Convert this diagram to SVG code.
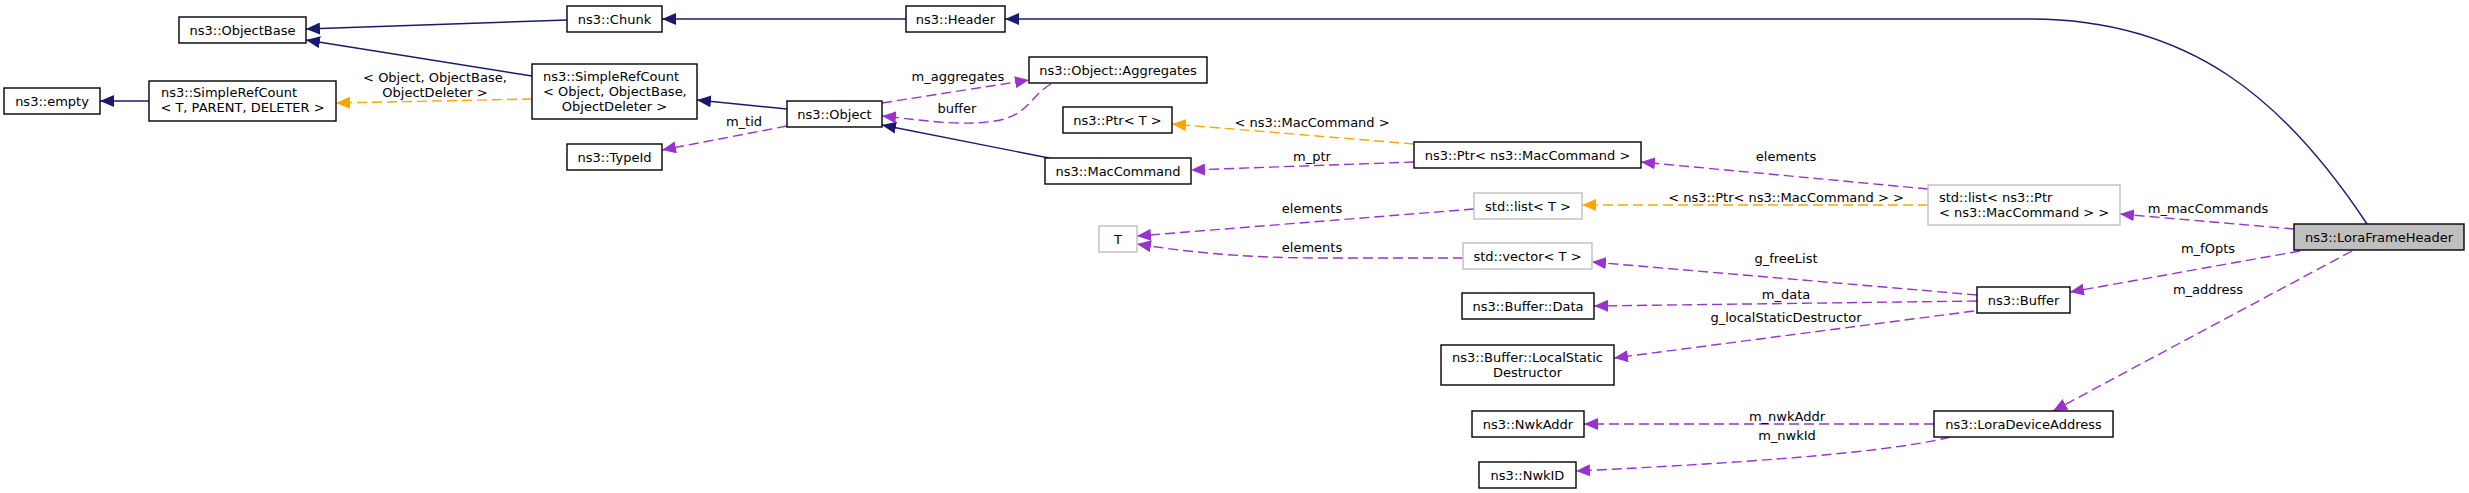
<svg xmlns="http://www.w3.org/2000/svg" width="2469" height="493" viewBox="0 0 2469 493">
<style>
text{font-family:"DejaVu Sans","Liberation Sans",sans-serif;font-size:13px;fill:#000}
.n rect{fill:#fff;stroke:#000;stroke-width:1.4}
.g rect{fill:#fff;stroke:#bfbfbf;stroke-width:1.4}
.c{text-anchor:middle}
.e path{fill:none;stroke-width:1.4}
.inh{stroke:#191970}
.use{stroke:#9a32cd;stroke-dasharray:10,5}
.tpl{stroke:#ffa500;stroke-dasharray:10,5}
</style>
<defs>
<marker id="ab" viewBox="0 0 14 12" refX="14" refY="6" markerWidth="14" markerHeight="12" markerUnits="userSpaceOnUse" orient="auto"><path d="M0,0 L14,6 L0,12 z" fill="#191970"/></marker>
<marker id="ap" viewBox="0 0 14 12" refX="14" refY="6" markerWidth="14" markerHeight="12" markerUnits="userSpaceOnUse" orient="auto"><path d="M0,0 L14,6 L0,12 z" fill="#9a32cd"/></marker>
<marker id="ao" viewBox="0 0 14 12" refX="14" refY="6" markerWidth="14" markerHeight="12" markerUnits="userSpaceOnUse" orient="auto"><path d="M0,0 L14,6 L0,12 z" fill="#ffa500"/></marker>
</defs>
<rect width="2469" height="493" fill="#fff"/>
<g id="edges" class="e">
<path class="inh" d="M567,20 L306,29" marker-end="url(#ab)"/>
<path class="inh" d="M532,76 L306,40" marker-end="url(#ab)"/>
<path class="inh" d="M149,101 L100,101" marker-end="url(#ab)"/>
<path class="tpl" d="M532,99 L336,103" marker-end="url(#ao)"/>
<path class="inh" d="M906,19 L662,19" marker-end="url(#ab)"/>
<path class="inh" d="M2367,224 C2285,100 2190,19 2030,19 L1005,19" marker-end="url(#ab)"/>
<path class="inh" d="M787,109 L697,100" marker-end="url(#ab)"/>
<path class="inh" d="M1049,158 L882,125" marker-end="url(#ab)"/>
<path class="use" d="M787,126 L662,150" marker-end="url(#ap)"/>
<path class="use" d="M882,103 L1029,80" marker-end="url(#ap)"/>
<path class="use" d="M1051,84 C1030,96 1028,116 995,121 C960,127 915,119 882,116" marker-end="url(#ap)"/>
<path class="tpl" d="M1414,144 L1172,124" marker-end="url(#ao)"/>
<path class="use" d="M1414,162 L1191,170" marker-end="url(#ap)"/>
<path class="use" d="M1928,189 L1641,162" marker-end="url(#ap)"/>
<path class="tpl" d="M1928,205 L1582,205" marker-end="url(#ao)"/>
<path class="use" d="M2294,229 L2120,214" marker-end="url(#ap)"/>
<path class="use" d="M2300,251 L2070,292" marker-end="url(#ap)"/>
<path class="use" d="M2352,251 L2053,411" marker-end="url(#ap)"/>
<path class="use" d="M1474,209 L1137,236" marker-end="url(#ap)"/>
<path class="use" d="M1463,258 L1320,258 C1240,258 1180,251 1137,244" marker-end="url(#ap)"/>
<path class="use" d="M1977,295 L1592,262" marker-end="url(#ap)"/>
<path class="use" d="M1977,301 L1594,306" marker-end="url(#ap)"/>
<path class="use" d="M1974,311 L1614,358" marker-end="url(#ap)"/>
<path class="use" d="M1934,424 L1584,424" marker-end="url(#ap)"/>
<path class="use" d="M1950,437 C1880,455 1700,465 1576,471" marker-end="url(#ap)"/>
<text class="c" x="435" y="81.5">&lt; Object, ObjectBase,</text>
<text class="c" x="435" y="96.5">ObjectDeleter &gt;</text>
<text class="c" x="958" y="80.5">m_aggregates</text>
<text class="c" x="957" y="112.5">buffer</text>
<text class="c" x="744" y="125.5">m_tid</text>
<text class="c" x="1312" y="126.5">&lt; ns3::MacCommand &gt;</text>
<text class="c" x="1312" y="160.5">m_ptr</text>
<text class="c" x="1786" y="160.5">elements</text>
<text class="c" x="1786" y="201.5">&lt; ns3::Ptr&lt; ns3::MacCommand &gt; &gt;</text>
<text class="c" x="1312" y="212.5">elements</text>
<text class="c" x="1312" y="251.5">elements</text>
<text class="c" x="2208" y="212.5">m_macCommands</text>
<text class="c" x="2208" y="252.5">m_fOpts</text>
<text class="c" x="2208" y="293.5">m_address</text>
<text class="c" x="1786" y="262.5">g_freeList</text>
<text class="c" x="1786" y="298.5">m_data</text>
<text class="c" x="1786" y="321.5">g_localStaticDestructor</text>
<text class="c" x="1787" y="420.5">m_nwkAddr</text>
<text class="c" x="1787" y="439.5">m_nwkId</text>
</g>
<g id="ObjectBase" class="n"><rect x="179" y="17" width="127" height="26"/><text class="c" x="242.5" y="34.5">ns3::ObjectBase</text></g>
<g id="Chunk" class="n"><rect x="567" y="6" width="95" height="26"/><text class="c" x="614.5" y="23.5">ns3::Chunk</text></g>
<g id="Header" class="n"><rect x="906" y="6" width="99" height="26"/><text class="c" x="955.5" y="23.5">ns3::Header</text></g>
<g id="empty" class="n"><rect x="4" y="88" width="96" height="26"/><text class="c" x="52" y="105.5">ns3::empty</text></g>
<g id="SimpleRefCountT" class="n"><rect x="149" y="81" width="187" height="40"/><text x="161" y="96.5">ns3::SimpleRefCount</text><text class="c" x="242.5" y="111.5">&lt; T, PARENT, DELETER &gt;</text></g>
<g id="SimpleRefCountObject" class="n"><rect x="532" y="64" width="165" height="55"/><text x="543" y="80.5">ns3::SimpleRefCount</text><text x="543" y="95.5">&lt; Object, ObjectBase,</text><text class="c" x="614.5" y="110.5">ObjectDeleter &gt;</text></g>
<g id="TypeId" class="n"><rect x="567" y="144" width="95" height="26"/><text class="c" x="614.5" y="161.5">ns3::TypeId</text></g>
<g id="Object" class="n"><rect x="787" y="101" width="95" height="26"/><text class="c" x="834.5" y="118.5">ns3::Object</text></g>
<g id="Aggregates" class="n"><rect x="1029" y="57" width="178" height="26"/><text class="c" x="1118" y="74.5">ns3::Object::Aggregates</text></g>
<g id="PtrT" class="n"><rect x="1063" y="107" width="109" height="26"/><text class="c" x="1117.5" y="124.5">ns3::Ptr&lt; T &gt;</text></g>
<g id="MacCommand" class="n"><rect x="1045" y="158" width="146" height="26"/><text class="c" x="1118" y="175.5">ns3::MacCommand</text></g>
<g id="PtrMacCommand" class="n"><rect x="1414" y="142" width="227" height="26"/><text class="c" x="1527.5" y="159.5">ns3::Ptr&lt; ns3::MacCommand &gt;</text></g>
<g id="ListPtrMacCommand" class="g"><rect x="1928" y="185" width="192" height="40"/><text x="1939" y="201.5">std::list&lt; ns3::Ptr</text><text x="1939" y="216.5">&lt; ns3::MacCommand &gt; &gt;</text></g>
<g id="LoraFrameHeader" class="n"><rect x="2294" y="224" width="170" height="26" style="fill:#bfbfbf"/><text class="c" x="2379" y="241.5">ns3::LoraFrameHeader</text></g>
<g id="ListT" class="g"><rect x="1474" y="193" width="108" height="26"/><text class="c" x="1528" y="210.5">std::list&lt; T &gt;</text></g>
<g id="T" class="g"><rect x="1099" y="226" width="38" height="26"/><text class="c" x="1118" y="243.5">T</text></g>
<g id="VectorT" class="g"><rect x="1463" y="243" width="129" height="26"/><text class="c" x="1527.5" y="260.5">std::vector&lt; T &gt;</text></g>
<g id="BufferData" class="n"><rect x="1462" y="293" width="132" height="26"/><text class="c" x="1528" y="310.5">ns3::Buffer::Data</text></g>
<g id="Buffer" class="n"><rect x="1977" y="287" width="93" height="26"/><text class="c" x="2023.5" y="304.5">ns3::Buffer</text></g>
<g id="LocalStaticDestructor" class="n"><rect x="1441" y="345" width="173" height="40"/><text class="c" x="1527.5" y="361.5">ns3::Buffer::LocalStatic</text><text class="c" x="1527.5" y="376.5">Destructor</text></g>
<g id="NwkAddr" class="n"><rect x="1472" y="411" width="112" height="26"/><text class="c" x="1528" y="428.5">ns3::NwkAddr</text></g>
<g id="LoraDeviceAddress" class="n"><rect x="1934" y="411" width="179" height="26"/><text class="c" x="2023.5" y="428.5">ns3::LoraDeviceAddress</text></g>
<g id="NwkID" class="n"><rect x="1479" y="462" width="97" height="26"/><text class="c" x="1527.5" y="479.5">ns3::NwkID</text></g>
</svg>
